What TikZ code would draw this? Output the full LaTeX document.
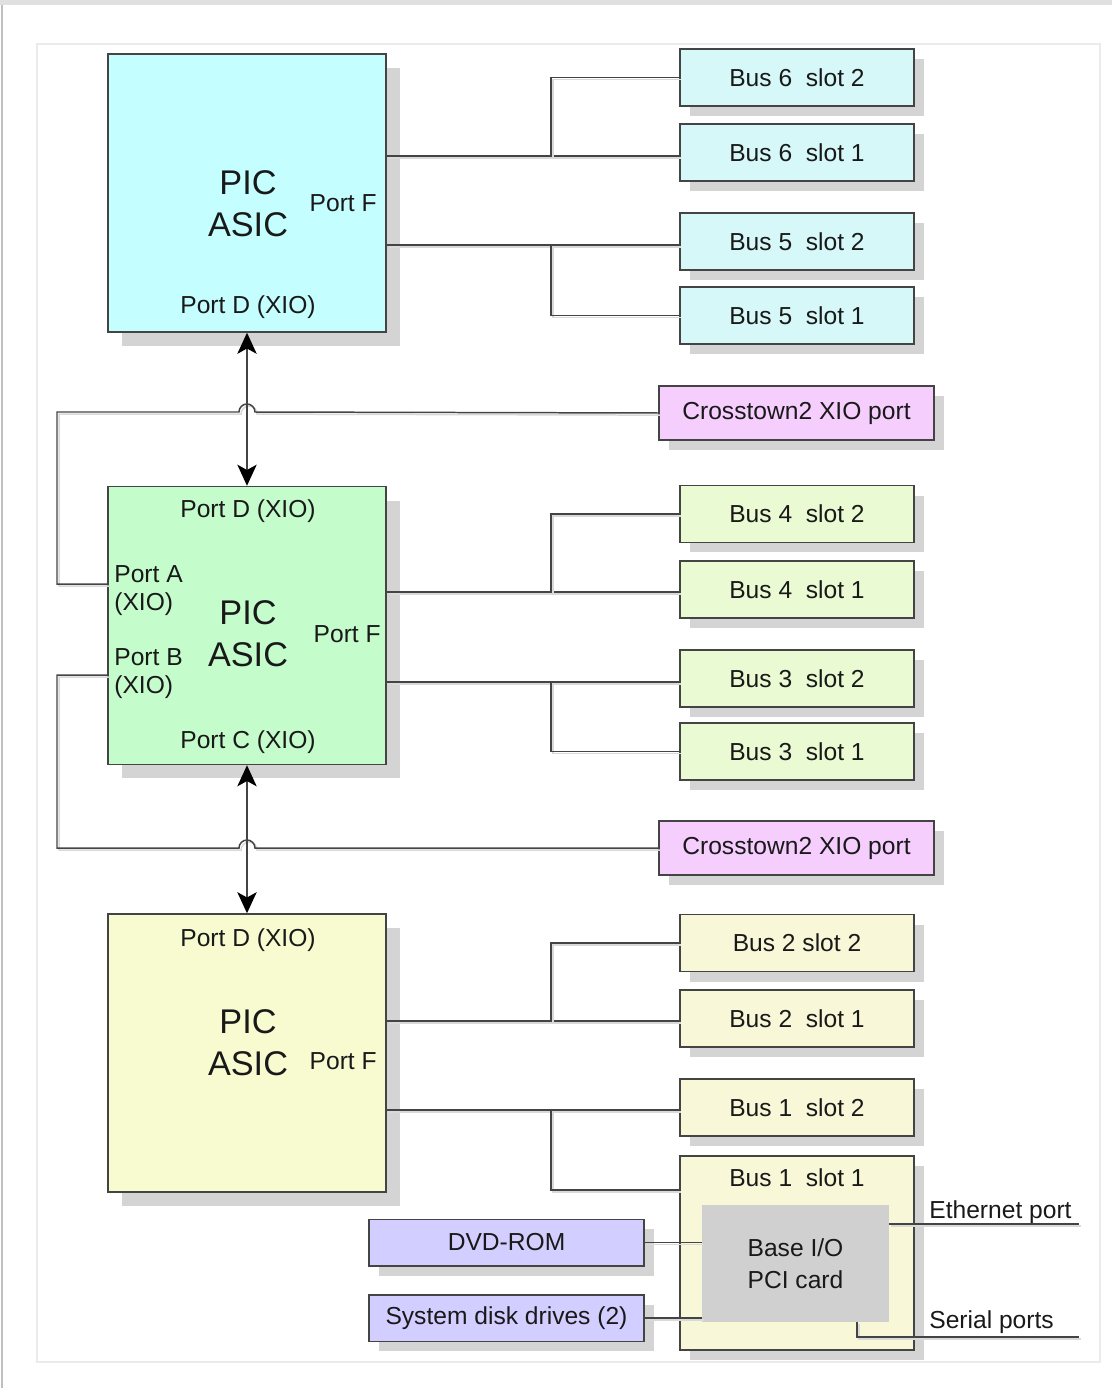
\documentclass[tikz,border=0pt]{standalone}
\usepackage{fontspec}
\setmainfont{Liberation Sans}
\usetikzlibrary{arrows.meta,shadows}
\definecolor{picA}{HTML}{C4FEFF}
\definecolor{slotA}{HTML}{D6F8F8}
\definecolor{picB}{HTML}{C4FCCC}
\definecolor{slotB}{HTML}{EAFAD2}
\definecolor{picC}{HTML}{F8FAD0}
\definecolor{slotC}{HTML}{F8F8D8}
\definecolor{xtown}{HTML}{F6CEFE}
\definecolor{drive}{HTML}{D2CEFF}
\definecolor{card}{HTML}{D0D0D0}
\definecolor{shade}{HTML}{D4D4D4}
\definecolor{edge}{HTML}{444444}
\begin{document}
\begin{tikzpicture}[x=0.02cm,y=0.02cm,font=\fontsize{14}{16}\selectfont]
    \tikzstyle{box} = [draw=edge, line width=0.85pt, inner sep=0pt, text=black!90,
    drop shadow={shadow xshift=0.2cm, shadow yshift=-0.2cm, fill=shade, opacity=1}];
    \tikzstyle{pic} = [draw=edge, line width=0.85pt, inner sep=0pt,
    minimum width=5.56cm, minimum height=5.56cm,
    drop shadow={shadow xshift=0.28cm, shadow yshift=-0.28cm, fill=shade, opacity=1}];
    \tikzstyle{slot} = [box, minimum width=4.68cm, minimum height=1.14cm];
    \tikzstyle{port} = [box, minimum width=5.5cm, minimum height=1.08cm, fill=xtown];
    \tikzstyle{dev} = [box, minimum width=5.5cm, minimum height=0.93cm, fill=drive];
    \tikzstyle{big} = [align=center, font=\fontsize{19.5}{24}\selectfont, text=black!90];
    \tikzstyle{lbl} = [inner sep=0pt, text=black!90];
    \tikzstyle{wire} = [draw=edge, line width=0.85pt,
    preaction={draw=black!15, line width=0.85pt, transform canvas={xshift=1.2pt,yshift=-1.2pt}}];
    \tikzstyle{bus} = [draw=edge, line width=0.85pt,
    {Stealth[length=12pt,width=11pt,inset=3pt,black]}-{Stealth[length=12pt,width=11pt,inset=3pt,black]}];

    \useasboundingbox (0,0) rectangle (1112,-1388);
    \fill[black!12] (0,0) rectangle (1112,-5);
    \draw[black!25, line width=1pt] (2,-5) -- (2,-1388);
    \draw[black!8, line width=1.2pt] (37,-44) rectangle (1100,-1362);

    \node[pic, fill=picA] (pic1) at (247,-193){};
    \node[pic, fill=picB] (pic2) at (247,-625.5){};
    \node[pic, fill=picC] (pic3) at (247,-1053){};

    \node[big] (asic1) at (248,-204){PIC\\ASIC};
    \node[lbl, anchor=east] (f1) at (377,-203){Port F};
    \node[lbl] (d1) at (248,-307){Port D (XIO)};

    \node[big] (asic2) at (248,-634){PIC\\ASIC};
    \node[lbl, anchor=east] (f2) at (381,-634){Port F};
    \node[lbl] (d2) at (248,-511){Port D (XIO)};
    \node[lbl] (c2) at (248,-742){Port C (XIO)};
    \node[lbl, anchor=west, align=left] (a2) at (114,-591){Port A\\(XIO)};
    \node[lbl, anchor=west, align=left] (b2) at (114,-674){Port B\\(XIO)};

    \node[big] (asic3) at (248,-1043){PIC\\ASIC};
    \node[lbl, anchor=east] (f3) at (377,-1061){Port F};
    \node[lbl] (d3) at (248,-940){Port D (XIO)};

    \node[slot, fill=slotA] (b6s2) at (797,-77.5){Bus 6\ \ slot 2};
    \node[slot, fill=slotA] (b6s1) at (797,-152.5){Bus 6\ \ slot 1};
    \node[slot, fill=slotA] (b5s2) at (797,-241.5){Bus 5\ \ slot 2};
    \node[slot, fill=slotA] (b5s1) at (797,-315.5){Bus 5\ \ slot 1};

    \node[slot, fill=slotB] (b4s2) at (797,-514){Bus 4\ \ slot 2};
    \node[slot, fill=slotB] (b4s1) at (797,-589.5){Bus 4\ \ slot 1};
    \node[slot, fill=slotB] (b3s2) at (797,-678.5){Bus 3\ \ slot 2};
    \node[slot, fill=slotB] (b3s1) at (797,-751.5){Bus 3\ \ slot 1};

    \node[slot, fill=slotC] (b2s2) at (797,-943){Bus 2 slot 2};
    \node[slot, fill=slotC] (b2s1) at (797,-1018.5){Bus 2\ \ slot 1};
    \node[slot, fill=slotC] (b1s2) at (797,-1107.5){Bus 1\ \ slot 2};
    \node[slot, fill=slotC, minimum height=3.88cm] (b1s1) at (797,-1253){};
    \node[lbl] (b1s1t) at (797,-1178){Bus 1\ \ slot 1};

    \node[port] (xt1) at (796.5,-413){Crosstown2 XIO port};
    \node[port] (xt2) at (796.5,-848){Crosstown2 XIO port};

    \node[draw=none, fill=card, minimum width=3.74cm, minimum height=2.34cm,
    inner sep=0pt, align=center, text=black!90] (base) at (795.5,-1263.5){Base I/O\\[2pt]PCI card};
    \node[dev] (dvd) at (506.5,-1242.5){DVD-ROM};
    \node[dev] (disk) at (506.5,-1318){System disk drives (2)};
    \node[lbl, anchor=base west] (eth) at (929,-1218){Ethernet port};
    \node[lbl, anchor=base west] (ser) at (929,-1328){Serial ports};

    \coordinate (j6) at (551,-156);
    \coordinate (j5) at (551,-245);
    \coordinate (j4) at (551,-592);
    \coordinate (j3) at (551,-682);
    \coordinate (j2) at (551,-1021);
    \coordinate (j1) at (551,-1110);
    \coordinate (j1b) at (551,-1190);
    \coordinate (pa) at (108,-584);
    \coordinate (pb) at (108,-675);
    \coordinate (ethend) at (1079,-1224);
    \coordinate (serend) at (1079,-1337);
    \coordinate (sertap) at (857,-1322);

    \draw[wire] (j6 -| pic1.east) -- (j6 -| b6s1.west);
    \draw[wire] (j6) |- (b6s2.west);
    \draw[wire] (j5 -| pic1.east) -- (j5 -| b5s2.west);
    \draw[wire] (j5) |- (b5s1.west);
    \draw[wire] (j4 -| pic2.east) -- (j4 -| b4s1.west);
    \draw[wire] (j4) |- (b4s2.west);
    \draw[wire] (j3 -| pic2.east) -- (j3 -| b3s2.west);
    \draw[wire] (j3) |- (b3s1.west);
    \draw[wire] (j2 -| pic3.east) -- (j2 -| b2s1.west);
    \draw[wire] (j2) |- (b2s2.west);
    \draw[wire] (j1 -| pic3.east) -- (j1 -| b1s2.west);
    \draw[wire] (j1) -- (j1b) -- (j1b -| b1s1.west);

    \draw[wire] (xt1.west) -- (255,-412) arc (0:180:8) -- (57,-412) |- (pa);
    \draw[wire] (xt2.west) -- (255,-848) arc (0:180:8) -- (57,-848) |- (pb);
    \draw[bus] (pic1.south) -- (pic2.north);
    \draw[bus] (pic2.south) -- (pic3.north);

    \draw[wire] (dvd.east) -- (dvd.east -| base.west);
    \draw[wire] (disk.east) -- (disk.east -| base.west);
    \draw[wire] (ethend -| base.east) -- (ethend);
    \draw[wire] (sertap) |- (serend);
\end{tikzpicture}
\end{document}
